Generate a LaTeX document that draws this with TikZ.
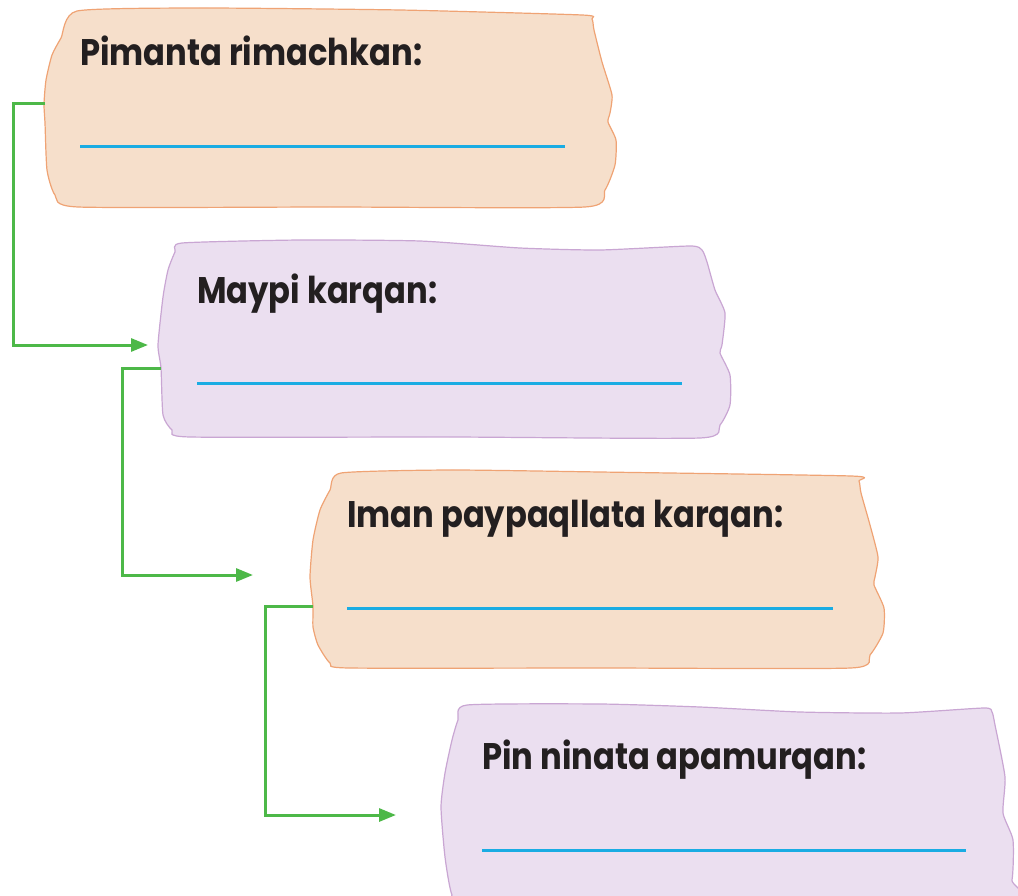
\documentclass[tikz,border=0pt]{standalone}
\usepackage{fontspec}
\setmainfont{Poppins}
\usetikzlibrary{arrows.meta}

\definecolor{peachfill}{HTML}{F6DFCB}
\definecolor{peachline}{HTML}{EFA374}
\definecolor{lilacfill}{HTML}{EBDFF0}
\definecolor{lilacline}{HTML}{C9A6D3}
\definecolor{linkgreen}{HTML}{4DB848}
\definecolor{blankblue}{HTML}{1AACE3}
\definecolor{ink}{HTML}{231F20}

\newcommand{\cardtext}[1]{\scalebox{0.87}[1]{#1}}

\tikzset{
  peachbox/.style={fill=peachfill, draw=peachline, line width=1.2pt},
  lilacbox/.style={fill=lilacfill, draw=lilacline, line width=1.2pt},
  lbl/.style={anchor=base west, inner sep=0pt, text=ink,
              font=\fontsize{37}{40}\selectfont\bfseries},
  blank/.style={draw=blankblue, line width=3pt},
  link/.style={draw=linkgreen, line width=3pt,
               -{Triangle[length=17pt,width=13pt]}}
}

\begin{document}
\begin{tikzpicture}[x=1pt, y=-1pt]
      \clip (0,0) rectangle (1018,896);
      % the four torn-paper cards
      \path[peachbox] plot[smooth cycle, tension=0.35] coordinates {
            (77,11) (200,8) (400,10) (582,15) (592,19) (594,30) (602,62)
            (612,95) (610,113) (608,122) (616,140) (615,165) (605,190)
            (585,207) (330,207) (78,207) (55,195) (47,170) (45,123)
            (44,104) (46,80) (52,55) (61,38)};
      \path[lilacbox] plot[smooth cycle, tension=0.35] coordinates {
            (182,243) (300,240) (420,241) (520,248) (600,250) (690,246)
            (702,250) (707,262) (715,290) (725,313) (722,345) (720,353)
            (730,375) (730,405) (720,425) (700,438) (450,437) (190,437)
            (172,430) (163,415) (161,368) (158,345) (163,297) (168,270)
            (175,252)};
      \path[peachbox] plot[smooth cycle, tension=0.35] coordinates {
            (341,473) (450,470) (600,472) (851,476) (859,481) (861,493)
            (870,525) (878,557) (875,577) (874,585) (884,608) (883,633)
            (870,655) (851,668) (600,668) (349,668) (330,663) (318,645)
            (313,627) (313,606) (310,577) (313,540) (320,510) (330,490)};
      \path[lilacbox] plot[smooth cycle, tension=0.35] coordinates {
            (467,705) (600,704) (700,707) (800,712) (900,713) (984,708)
            (992,712) (995,725) (1005,777) (1003,813) (1013,840)
            (1012,880) (1000,910) (470,915) (452,895) (445,857)
            (441,807) (445,773) (452,740) (458,720)};

      \node (rima) [lbl] at (80,66) {\cardtext{Pimanta rimachkan:}};
      \node (karq) [lbl] at (197,303) {\cardtext{Maypi karqan:}};
      \node (payp) [lbl] at (347,527) {\cardtext{Iman paypaqllata karqan:}};
      \node (apam) [lbl] at (482,769) {\cardtext{Pin ninata apamurqan:}};

      \draw[blank] (80,147) -- (565,147);
      \draw[blank] (197,383) -- (682,383);
      \draw[blank] (347,608) -- (833,608);
      \draw[blank] (482,850) -- (966,850);

      % where the links leave and reach the cards
      \coordinate (out1) at (45,104);
      \coordinate (in2) at (148,345);
      \coordinate (out2) at (161,368);
      \coordinate (in3) at (253,575);
      \coordinate (out3) at (313,606);
      \coordinate (in4) at (396,815);

      \draw[link] (out1) -| (13,345) -- (in2);
      \draw[link] (out2) -| (122,575) -- (in3);
      \draw[link] (out3) -| (265,815) -- (in4);
\end{tikzpicture}
\end{document}
